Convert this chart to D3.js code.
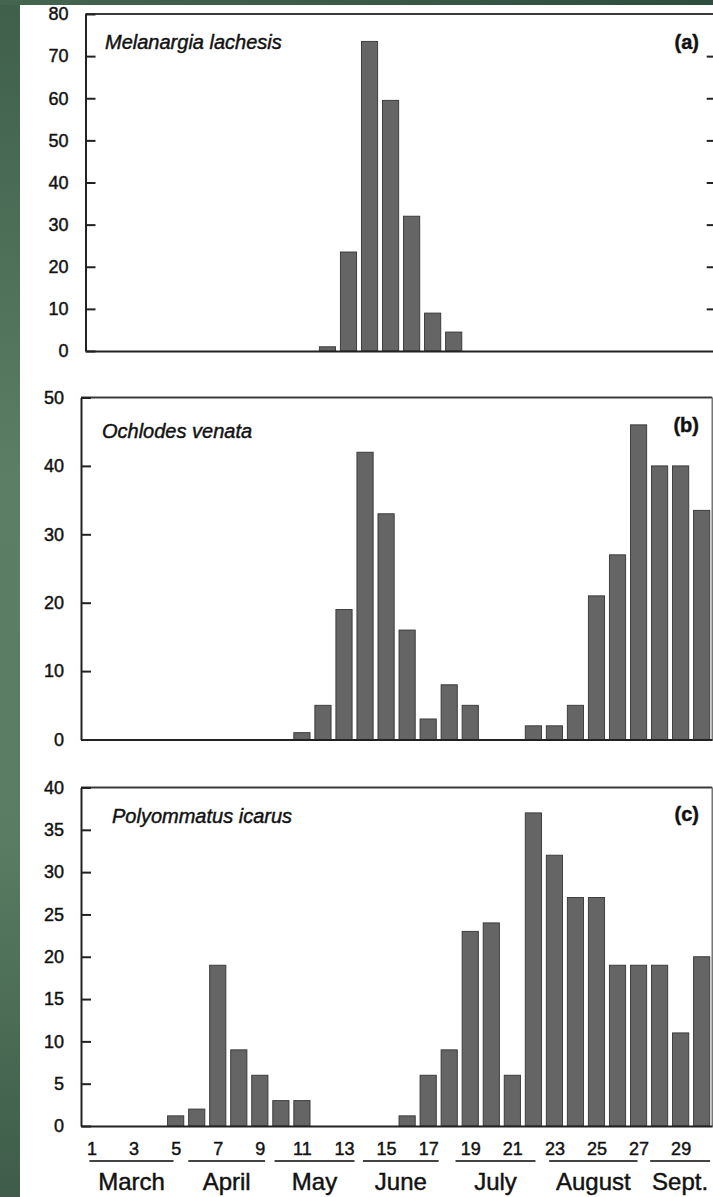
<!DOCTYPE html>
<html>
<head>
<meta charset="utf-8">
<script src="https://cdn.jsdelivr.net/npm/d3@7"></script>
<style>
  html, body { margin: 0; padding: 0; background: #fff; }
  svg { display: block; }
  svg text { stroke: #151515; stroke-width: 0.45px; paint-order: fill; }
</style>
</head>
<body>
<div id="chart"></div>
<script>
// weekly counts, March to September (week 1 .. 30)
const weeks = d3.range(1, 31);
const melanargia = [0,0,0,0,0,0,0,0,0,0,0,1,23.5,73.5,59.5,32,9,4.5,0,0,0,0,0,0,0,0,0,0,0,0];
const ochlodes = [0,0,0,0,0,0,0,0,0,0,1,5,19,42,33,16,3,8,5,0,0,2,2,5,21,27,46,40,40,33.5];
const polyommatus = [0,0,0,0,1.2,2,19,9,6,3,3,0,0,0,0,1.2,6,9,23,24,6,37,32,27,27,19,19,19,11,20];

const species = ["Melanargia lachesis", "Ochlodes venata", "Polyommatus icarus"];
const panelTags = ["(a)", "(b)", "(c)"];
const yMax = [80, 50, 40];
const yStep = [10, 10, 5];

const weekTicks = d3.range(1, 30, 2);
const months = ["March", "April", "May", "June", "July", "August", "Sept."];
const monthStart = [0.9, 5.6, 9.7, 13.9, 18.3, 22.75, 27.55];
const monthEnd = [4.9, 9.25, 13.5, 17.5, 22.1, 26.95, 30.4];

const series = [melanargia, ochlodes, polyommatus];

const width = 713, height = 1197;
const font = "'Liberation Sans', Arial, Helvetica, sans-serif";

// panel frames (the scanned panel a sits a few px to the right)
const layout = [
  { left: 85.5, right: 716.7, top: 14,    bottom: 351,  titleX: 105, titleY: 49,  tagY: 49,  mirror: true },
  { left: 81,   right: 712.2, top: 397.5, bottom: 739.5, titleX: 102, titleY: 438, tagY: 432, mirror: false },
  { left: 81,   right: 712.2, top: 787.5, bottom: 1126, titleX: 112, titleY: 823, tagY: 821, mirror: false }
];

const svg = d3.select("#chart")
  .append("svg")
  .attr("width", width)
  .attr("height", height)
  .attr("viewBox", [0, 0, width, height]);

const defs = svg.append("defs");
const gSide = defs.append("linearGradient").attr("id", "side").attr("x1", 0).attr("y1", 0).attr("x2", 0).attr("y2", 1);
gSide.append("stop").attr("offset", "0%").attr("stop-color", "#3f5f4b");
gSide.append("stop").attr("offset", "40%").attr("stop-color", "#5b7e64");
gSide.append("stop").attr("offset", "70%").attr("stop-color", "#5a7c62");
gSide.append("stop").attr("offset", "100%").attr("stop-color", "#3e5c49");
const gTop = defs.append("linearGradient").attr("id", "topband").attr("x1", 0).attr("y1", 0).attr("x2", 1).attr("y2", 0);
gTop.append("stop").attr("offset", "0%").attr("stop-color", "#45654f");
gTop.append("stop").attr("offset", "100%").attr("stop-color", "#2f4d3e");

svg.append("rect").attr("width", width).attr("height", height).attr("fill", "#fff");

series.forEach((values, p) => {
  const L = layout[p];
  const x = d3.scaleLinear().domain([0.5, 30.5]).range([L.left, L.right]);
  const y = d3.scaleLinear().domain([0, yMax[p]]).range([L.bottom, L.top]);
  const bw = (x(2) - x(1)) * 0.77;
  const g = svg.append("g");

  // bars
  g.append("g")
    .selectAll("rect")
    .data(weeks.filter((w, i) => values[i] > 0))
    .join("rect")
    .attr("x", w => x(w) - bw / 2)
    .attr("width", bw)
    .attr("y", w => y(values[w - 1]))
    .attr("height", w => y(0) - y(values[w - 1]))
    .attr("fill", "#656565")
    .attr("stroke", "#343434")
    .attr("stroke-width", 0.9);

  // top frame
  g.append("line")
    .attr("x1", L.left).attr("x2", L.right)
    .attr("y1", L.top).attr("y2", L.top)
    .attr("stroke", "#3a3a3a").attr("stroke-width", 2);

  // right frame
  g.append("line")
    .attr("x1", L.right).attr("x2", L.right)
    .attr("y1", L.top).attr("y2", L.bottom)
    .attr("stroke", "#555").attr("stroke-width", 1.2);

  // bottom line
  const xAxis = d3.axisBottom(x).tickValues(p === 2 ? weekTicks : []).tickSize(0).tickPadding(16).tickSizeOuter(0);
  g.append("g")
    .attr("transform", `translate(0,${L.bottom})`)
    .call(xAxis)
    .call(a => a.select(".domain").attr("stroke", "#222").attr("stroke-width", 2))
    .call(a => a.selectAll("text").attr("font-size", 18).attr("font-family", font).attr("fill", "#111"));

  // left axis with inward ticks
  const yAxis = d3.axisLeft(y)
    .tickValues(d3.range(0, yMax[p] + 1, yStep[p]))
    .tickSizeInner(-10)
    .tickSizeOuter(0)
    .tickPadding(17);
  g.append("g")
    .attr("transform", `translate(${L.left},0)`)
    .call(yAxis)
    .call(a => a.select(".domain").attr("stroke", "#222").attr("stroke-width", 2))
    .call(a => a.selectAll(".tick line").attr("stroke", "#222").attr("stroke-width", 2))
    .call(a => a.selectAll("text").attr("font-size", 18).attr("font-family", font).attr("fill", "#111"));

  if (L.mirror) {
    g.append("g")
      .attr("transform", `translate(${L.right},0)`)
      .call(d3.axisRight(y).tickValues(d3.range(yStep[p], yMax[p], yStep[p])).tickSizeInner(-10).tickSizeOuter(0).tickFormat(""))
      .call(a => a.selectAll(".tick line").attr("stroke", "#222").attr("stroke-width", 2))
      .call(a => a.select(".domain").attr("stroke", "#222").attr("stroke-width", 2));
  }

  g.append("text")
    .attr("x", L.titleX).attr("y", L.titleY)
    .attr("font-family", font).attr("font-size", 20).attr("font-style", "italic")
    .attr("fill", "#111")
    .text(species[p]);

  g.append("text")
    .attr("x", 699).attr("y", L.tagY)
    .attr("text-anchor", "end")
    .attr("font-family", font).attr("font-size", 20).attr("font-weight", "bold")
    .attr("fill", "#111")
    .text(panelTags[p]);

  if (p === 2) {
    // month underlines and names
    const mg = g.append("g");
    mg.selectAll("line")
      .data(months)
      .join("line")
      .attr("x1", (m, i) => x(monthStart[i]))
      .attr("x2", (m, i) => x(monthEnd[i]))
      .attr("y1", 1161).attr("y2", 1161)
      .attr("stroke", "#444").attr("stroke-width", 1.8);
    mg.selectAll("text")
      .data(months)
      .join("text")
      .attr("x", (m, i) => x((monthStart[i] + monthEnd[i]) / 2))
      .attr("y", 1190)
      .attr("text-anchor", "middle")
      .attr("font-family", font).attr("font-size", 24)
      .attr("fill", "#111")
      .text(m => m);
  }
});

// slide background around the scan
svg.append("rect").attr("x", 0).attr("y", 0).attr("width", 20).attr("height", height).attr("fill", "url(#side)");
svg.append("rect").attr("x", 0).attr("y", 0).attr("width", width).attr("height", 5).attr("fill", "url(#topband)");
</script>
</body>
</html>
